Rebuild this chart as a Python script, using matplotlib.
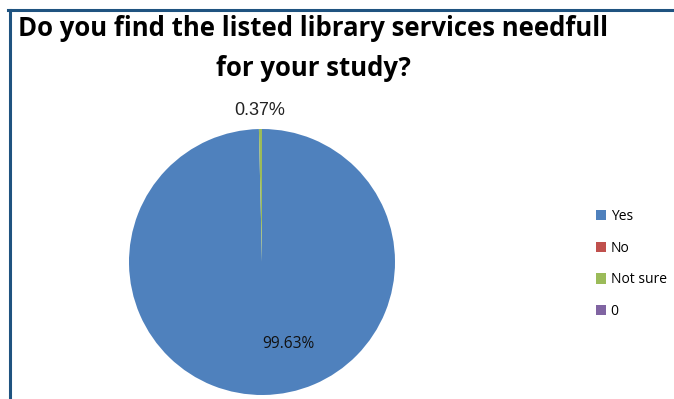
import matplotlib
matplotlib.use("Agg")
import matplotlib.pyplot as plt
from matplotlib.lines import Line2D

categories = ["Yes", "No", "Not sure", "0"]
values = [99.63, 0.0, 0.37, 0.0]
colors = ["#4F81BD", "#C0504D", "#9BBB59", "#8064A2"]
title_lines = ["Do you find the listed library services needfull", "for your study?"]

W, H = 674, 399
fig = plt.figure(figsize=(W / 100, H / 100), dpi=100)

# border (top and left visible)
fig.add_artist(Line2D([8 / W, 1.0], [1 - 10 / H, 1 - 10 / H], color="#1F5380", lw=2.2, transform=fig.transFigure))
fig.add_artist(Line2D([10 / W, 10 / W], [1 - 10 / H, 0.0], color="#1F5380", lw=2.2, transform=fig.transFigure))

# title
tfont = "Open Sans"
t1 = fig.text(313 / W, 1 - 29 / H, title_lines[0], ha="center", va="center",
              fontsize=19, fontweight="bold", family=tfont)
t2 = fig.text(313 / W, 1 - 69 / H, title_lines[1], ha="center", va="center",
              fontsize=19, fontweight="bold", family=tfont)
fig.canvas.draw()
r = fig.canvas.get_renderer()
wpx = t1.get_window_extent(r).width
fs = 19 * 587 / wpx
t1.set_fontsize(fs)
t2.set_fontsize(fs)

# pie
cx, cy, rad = 262, 262, 133
ax = fig.add_axes([(cx - rad) / W, (H - cy - rad) / H, 2 * rad / W, 2 * rad / H])
wedges, _ = ax.pie(values, colors=colors, startangle=90, counterclock=False,
                   radius=1.0, wedgeprops=dict(linewidth=0))
ax.set_xlim(-1, 1)
ax.set_ylim(-1, 1)
ax.set_aspect("equal")
ax.axis("off")

ax.text(-0.015, 1.14, f"{values[2]:.2f}%", ha="center", va="center",
        fontsize=13, family="Liberation Sans", color="#222222", clip_on=False)
ax.text(0.195, -0.62, f"{values[0]:.2f}%", ha="center", va="center",
        fontsize=11.2, family="Open Sans", color="#111111")

leg = fig.legend(wedges, categories, loc="upper left", bbox_to_anchor=(596 / W, 1 - 209 / H),
                 frameon=False, borderpad=0, borderaxespad=0,
                 handlelength=0.75, handleheight=0.75, handletextpad=0.3,
                 labelspacing=1.2, prop={"family": "Open Sans", "size": 10})

fig.savefig("out.png", dpi=100)
